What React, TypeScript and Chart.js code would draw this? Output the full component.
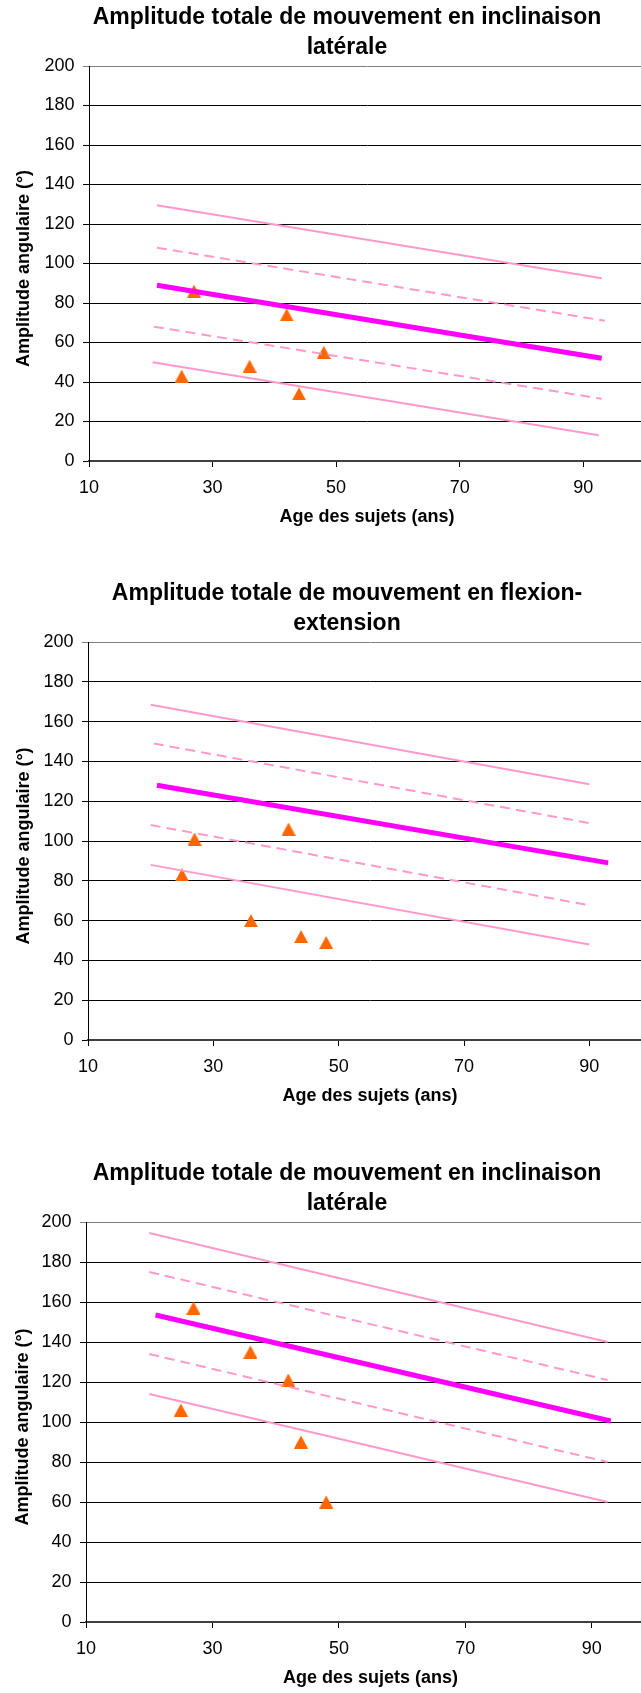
import React, { useEffect, useRef } from 'react';
import { Chart, registerables } from 'chart.js';

Chart.register(...registerables);

// ---------- DATA ----------
const ages = [25, 27, 36, 42, 44, 48];

const lat1Values = [43, 86, 48, 74, 34, 55];
const flexValues = [83, 101, 60, 106, 52, 49];
const lat2Values = [106, 157, 135, 121, 90, 60];

// trend lines: x endpoints / y endpoints
const lat1RegX = [21, 93];
const lat1RegY = [89, 52];
const lat1UpSolidX = [21, 93];
const lat1UpSolidY = [129.5, 92.5];
const lat1UpDashX = [21, 93.5];
const lat1UpDashY = [108, 71];
const lat1LowDashX = [20.5, 93];
const lat1LowDashY = [68, 31.5];
const lat1LowSolidX = [20.3, 92.5];
const lat1LowSolidY = [50, 13];

const flexRegX = [21, 93];
const flexRegY = [128, 89];
const flexUpSolidX = [20, 90];
const flexUpSolidY = [168.5, 128.5];
const flexUpDashX = [20.5, 90];
const flexUpDashY = [149, 109];
const flexLowDashX = [20, 89.5];
const flexLowDashY = [108, 68];
const flexLowSolidX = [20, 90];
const flexLowSolidY = [88, 48];

const lat2RegX = [21, 93];
const lat2RegY = [153.5, 100.5];
const lat2UpSolidX = [20, 92.5];
const lat2UpSolidY = [194.5, 140];
const lat2UpDashX = [20, 92.5];
const lat2UpDashY = [175, 121];
const lat2LowDashX = [20, 92.5];
const lat2LowDashY = [134, 80];
const lat2LowSolidX = [20, 92.5];
const lat2LowSolidY = [114, 60];

const xTickValues = [10, 30, 50, 70, 90];
const xMin = 10;
const xMax = 100;
const yMin = 0;
const yMax = 200;
const yStep = 20;

const titleLat = ['Amplitude totale de mouvement en inclinaison', 'latérale'];
const titleFlex = ['Amplitude totale de mouvement en flexion-', 'extension'];
const xTitle = 'Age des sujets (ans)';
const yTitle = 'Amplitude angulaire (°)  ';

// ---------- LAYOUT / STYLE ----------
const FONT = "'Liberation Sans', Arial, Helvetica, sans-serif";
const CANVAS_W = 694;
const X_AXIS_H = 67;

const layouts = [
  { top: 3, height: 525, yW: 89, right: 645, yTitlePad: 13.5 },
  { top: 579, height: 528, yW: 88, right: 652, yTitlePad: 13.5 },
  { top: 1159, height: 530, yW: 86, right: 655, yTitlePad: 12 },
];

const pts = (xs: number[], ys: number[]) => xs.map((x, i) => ({ x, y: ys[i] }));

function makeTriangle(w: number, h: number, color: string) {
  const c = document.createElement('canvas');
  c.width = w;
  c.height = h;
  const g = c.getContext('2d')!;
  g.fillStyle = color;
  g.beginPath();
  g.moveTo(w / 2, 0);
  g.lineTo(w, h);
  g.lineTo(0, h);
  g.closePath();
  g.fill();
  return c;
}

function lineDs(data: any[], color: string, width: number, dash: number[]) {
  return {
    data,
    showLine: true,
    borderColor: color,
    backgroundColor: color,
    borderWidth: width,
    borderDash: dash,
    pointRadius: 0,
    pointHoverRadius: 0,
    fill: false,
  };
}

function makeConfig(spec: any, lay: any, tri: HTMLCanvasElement): any {
  return {
    type: 'scatter',
    data: {
      datasets: [
        lineDs(spec.reg, '#FF00FF', 5, []),
        lineDs(spec.upSolid, '#FF99CC', 2, []),
        lineDs(spec.upDash, '#FF99CC', 2, [10, 6]),
        lineDs(spec.lowDash, '#FF99CC', 2, [10, 6]),
        lineDs(spec.lowSolid, '#FF99CC', 2, []),
        {
          data: ages.map((a, i) => ({ x: a, y: spec.values[i] })),
          showLine: false,
          pointStyle: tri,
          pointRadius: 7,
          backgroundColor: '#FF6600',
          borderColor: '#FF6600',
        },
      ],
    },
    options: {
      responsive: false,
      animation: false,
      devicePixelRatio: 1,
      layout: { padding: 0 },
      events: [],
      plugins: {
        legend: { display: false },
        tooltip: { enabled: false },
        title: {
          display: true,
          text: spec.title,
          color: '#000',
          font: { family: FONT, size: 23, weight: 'bold', lineHeight: 30 / 23 },
          padding: { top: 0, bottom: 3 },
        },
      },
      scales: {
        x: {
          type: 'linear',
          min: xMin,
          max: xMax,
          afterBuildTicks: (s: any) => {
            s.ticks = xTickValues.map((v) => ({ value: v }));
          },
          afterFit: (s: any) => {
            s.height = X_AXIS_H;
          },
          grid: { drawOnChartArea: false, drawTicks: true, tickLength: 6, color: '#000', lineWidth: 1 },
          border: { display: true, color: '#404040', width: 2 },
          ticks: { color: '#000', font: { family: FONT, size: 18 }, padding: 10, maxRotation: 0, autoSkip: false },
          title: {
            display: true,
            text: xTitle,
            color: '#000',
            font: { family: FONT, size: 18, weight: 'bold' },
            padding: { top: 8, bottom: 0 },
          },
        },
        y: {
          type: 'linear',
          min: yMin,
          max: yMax,
          afterFit: (s: any) => {
            s.width = lay.yW;
          },
          ticks: { stepSize: yStep, color: '#000', font: { family: FONT, size: 18 }, padding: 8.5 },
          grid: {
            color: (c: any) => (c.tick && c.tick.value === yMax ? '#808080' : '#000'),
            lineWidth: 1,
            tickLength: 6,
          },
          border: { display: true, color: '#000', width: 1 },
          title: {
            display: true,
            text: yTitle,
            color: '#000',
            font: { family: FONT, size: 18, weight: 'bold' },
            padding: { top: lay.yTitlePad, bottom: 0 },
          },
        },
        spacer: {
          type: 'linear',
          position: 'right',
          display: true,
          grid: { display: false },
          border: { display: false },
          ticks: { display: false },
          afterFit: (s: any) => {
            s.width = CANVAS_W - lay.right;
          },
        },
      },
    },
  };
}

export default function App() {
  const r1 = useRef<HTMLCanvasElement>(null);
  const r2 = useRef<HTMLCanvasElement>(null);
  const r3 = useRef<HTMLCanvasElement>(null);

  useEffect(() => {
    const tri = makeTriangle(14, 13, '#FF6600');
    const specs = [
      {
        title: titleLat,
        values: lat1Values,
        reg: pts(lat1RegX, lat1RegY),
        upSolid: pts(lat1UpSolidX, lat1UpSolidY),
        upDash: pts(lat1UpDashX, lat1UpDashY),
        lowDash: pts(lat1LowDashX, lat1LowDashY),
        lowSolid: pts(lat1LowSolidX, lat1LowSolidY),
      },
      {
        title: titleFlex,
        values: flexValues,
        reg: pts(flexRegX, flexRegY),
        upSolid: pts(flexUpSolidX, flexUpSolidY),
        upDash: pts(flexUpDashX, flexUpDashY),
        lowDash: pts(flexLowDashX, flexLowDashY),
        lowSolid: pts(flexLowSolidX, flexLowSolidY),
      },
      {
        title: titleLat,
        values: lat2Values,
        reg: pts(lat2RegX, lat2RegY),
        upSolid: pts(lat2UpSolidX, lat2UpSolidY),
        upDash: pts(lat2UpDashX, lat2UpDashY),
        lowDash: pts(lat2LowDashX, lat2LowDashY),
        lowSolid: pts(lat2LowSolidX, lat2LowSolidY),
      },
    ];
    const refs = [r1, r2, r3];
    const charts = refs.map((r, i) => new Chart(r.current!, makeConfig(specs[i], layouts[i], tri)));
    return () => charts.forEach((c) => c.destroy());
  }, []);

  const refs = [r1, r2, r3];
  return (
    <div
      style={{
        position: 'absolute',
        left: 0,
        top: 0,
        width: 641,
        height: 1693,
        overflow: 'hidden',
        background: '#fff',
      }}
    >
      {layouts.map((lay, i) => (
        <canvas
          key={i}
          ref={refs[i]}
          width={CANVAS_W}
          height={lay.height}
          style={{ position: 'absolute', left: 0, top: lay.top, width: CANVAS_W, height: lay.height }}
        />
      ))}
    </div>
  );
}
